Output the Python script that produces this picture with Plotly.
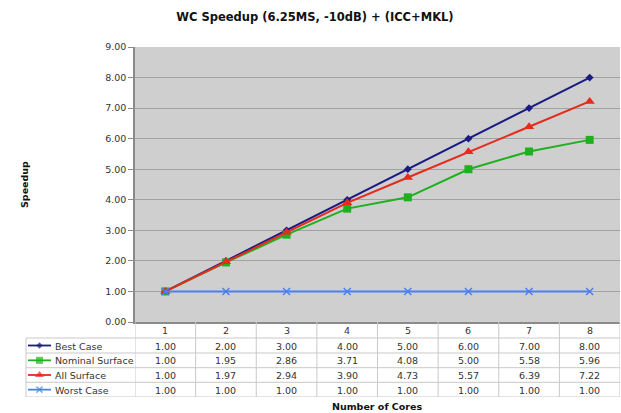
import plotly.graph_objects as go

cores = [1, 2, 3, 4, 5, 6, 7, 8]
series_names = ["Best Case", "Nominal Surface", "All Surface", "Worst Case"]
best_case = [1.00, 2.00, 3.00, 4.00, 5.00, 6.00, 7.00, 8.00]
nominal_surface = [1.00, 1.95, 2.86, 3.71, 4.08, 5.00, 5.58, 5.96]
all_surface = [1.00, 1.97, 2.94, 3.90, 4.73, 5.57, 6.39, 7.22]
worst_case = [1.00, 1.00, 1.00, 1.00, 1.00, 1.00, 1.00, 1.00]
y_ticks = [0, 1, 2, 3, 4, 5, 6, 7, 8, 9]

series_values = [best_case, nominal_surface, all_surface, worst_case]
colors = ["#1a1a85", "#1eb01e", "#e62a1c", "#4a80f2"]
symbols = ["diamond", "square", "triangle-up", "x-thin"]
sizes = [6, 8, 9, 7]
key_sizes = [5, 7, 8, 6]

FONT = "DejaVu Sans"
TXT = "#333333"
W, H = 621, 413
ML, MR, MT, MB = 26, 1, 47, 16
PW = W - ML - MR
PH = H - MT - MB
PLOT_LEFT = 135
TABLE_H = 75  # pixels from x-axis line to table bottom
xdom0 = (PLOT_LEFT - ML) / PW
ysplit = TABLE_H / PH
row_edges = [0, 16, 31, 45.7, 60.3, 75]

fig = go.Figure()

for name, vals, c, sym, sz in zip(series_names, series_values, colors, symbols, sizes):
    fig.add_trace(go.Scatter(
        x=cores, y=vals, name=name, mode="lines+markers",
        line=dict(color=c, width=2),
        marker=dict(symbol=sym, size=sz, color=c,
                    line=dict(color=c, width=1.5 if sym == "x-thin" else 0)),
        xaxis="x", yaxis="y", showlegend=False, cliponaxis=False,
    ))

# legend keys inside the table label column (pixel-like axis x3/y2)
for i, (c, sym, sz) in enumerate(zip(colors, symbols, key_sizes)):
    yc = (row_edges[i + 1] + row_edges[i + 2]) / 2
    fig.add_trace(go.Scatter(
        x=[28, 39.5, 51], y=[yc, yc, yc], mode="lines+markers",
        line=dict(color=c, width=1.8),
        marker=dict(symbol=sym, size=[0, sz, 0], color=c,
                    line=dict(color=c, width=1.5 if sym == "x-thin" else 0)),
        xaxis="x3", yaxis="y2", showlegend=False, hoverinfo="skip",
    ))

shapes = []
# grey plotting background (main chart only)
shapes.append(dict(type="rect", xref="x domain", yref="y domain", x0=0, x1=1, y0=0, y1=1,
                   fillcolor="#cfcfcf", line=dict(width=0), layer="below"))
LINE_C = "#c9c9c9"
for e in row_edges[1:]:
    shapes.append(dict(type="line", xref="paper", yref="y2", x0=0, x1=1, y0=e, y1=e,
                       line=dict(color=LINE_C, width=1)))
for k in range(len(cores) + 1):
    xv = cores[0] - 0.5 + k
    shapes.append(dict(type="line", xref="x", yref="y2", x0=xv, x1=xv, y0=0, y1=75,
                       line=dict(color=LINE_C, width=1)))
shapes.append(dict(type="line", xref="paper", yref="y2", x0=0, x1=0, y0=16, y1=75,
                   line=dict(color=LINE_C, width=1)))

annotations = []
for cval in cores:
    annotations.append(dict(x=cval, y=(row_edges[0] + row_edges[1]) / 2 + 0.5, xref="x", yref="y2",
                            text=str(cval), showarrow=False,
                            font=dict(family=FONT, size=9.5, color=TXT)))
for i, vals in enumerate(series_values):
    yc = (row_edges[i + 1] + row_edges[i + 2]) / 2 + 0.5
    for cval, v in zip(cores, vals):
        annotations.append(dict(x=cval, y=yc, xref="x", yref="y2",
                                text=f"{v:.2f}", showarrow=False,
                                font=dict(family=FONT, size=9.5, color=TXT)))
    annotations.append(dict(x=53, y=yc, xref="x3", yref="y2", xanchor="left",
                            text=series_names[i], showarrow=False,
                            font=dict(family=FONT, size=9.5, color=TXT)))

annotations.append(dict(x=(xdom0 + 1) / 2, y=-(406 - (H - MB)) / PH, xref="paper", yref="paper",
                        text="<b>Number of Cores</b>", showarrow=False, yanchor="middle",
                        font=dict(family=FONT, size=9.5, color="#111111")))
annotations.append(dict(x=(17 - ML) / PW, y=(ysplit + 1) / 2, xref="paper", yref="paper",
                        text="<b>Speedup</b>", showarrow=False, textangle=-90,
                        font=dict(family=FONT, size=9.5, color="#111111")))

fig.update_layout(
    width=W, height=H,
    margin=dict(l=ML, r=MR, t=MT, b=MB, pad=0),
    paper_bgcolor="white",
    plot_bgcolor="white",
    title=dict(text="<b>WC Speedup (6.25MS, -10dB) + (ICC+MKL)</b>",
               x=315 / W, xanchor="center", xref="container",
               y=1 - 17 / H, yanchor="middle", yref="container",
               font=dict(family=FONT, size=11.5, color="#111111")),
    xaxis=dict(domain=[xdom0, 1], range=[0.5, 8.5], anchor="y", automargin=False,
               showticklabels=False, showgrid=False, zeroline=False,
               showline=True, linecolor="#8a8a8a", linewidth=1.5, ticks=""),
    yaxis=dict(domain=[ysplit, 1], range=[0, 9], anchor="x", automargin=False,
               tickvals=y_ticks, tickformat=".2f",
               showgrid=True, gridcolor="#a2a2a2", gridwidth=1.2,
               zeroline=False, showline=True, linecolor="#8a8a8a", linewidth=1.5,
               ticks="outside", ticklen=5, tickcolor="#8a8a8a",
               tickfont=dict(family=FONT, size=9.5, color=TXT)),
    yaxis2=dict(domain=[0, ysplit], range=[TABLE_H, 0], anchor="x3", automargin=False,
                visible=False, fixedrange=True),
    xaxis3=dict(domain=[0, xdom0], range=[ML, PLOT_LEFT], anchor="y2", automargin=False,
                visible=False, fixedrange=True),
    shapes=shapes,
    annotations=annotations,
)

fig.write_html("out.html", config={"displayModeBar": False},
               post_script="document.body.style.margin='0';document.body.style.padding='0';")
